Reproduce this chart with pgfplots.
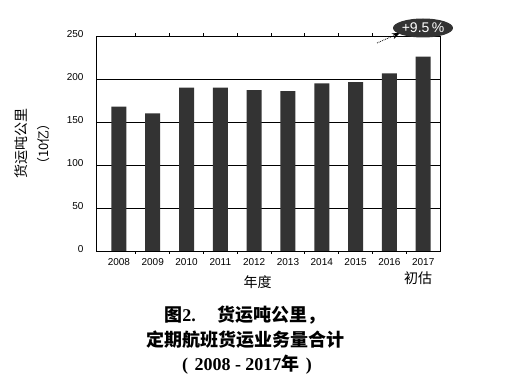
\documentclass[border=0pt]{standalone}
\usepackage{pgfplots}
\pgfplotsset{compat=1.18}
\usepackage{fontspec}
\setmainfont{Liberation Sans}
\newfontfamily\cjk{Noto Sans CJK SC}
\newfontfamily\serifb{Liberation Serif}
\usetikzlibrary{shapes.geometric,arrows.meta}
\definecolor{barc}{HTML}{333333}
\begin{document}
\begin{tikzpicture}[x=1pt,y=1pt]
\path[use as bounding box] (0,0) rectangle (512,383);
\begin{axis}[
  at={(96pt,132pt)}, anchor=south west, scale only axis,
  width=344pt, height=215pt,
  xmin=-0.677, xmax=9.497, ymin=0, ymax=250,
  axis line style={black, line width=0.8pt},
  xtick={0,...,9},
  xticklabels={2008,2009,2010,2011,2012,2013,2014,2015,2016,2017},
  minor xtick={0.5,1.5,...,8.5},
  ytick={0,50,...,250},
  major tick length=0pt,
  minor tick length=3pt,
  tick align=outside,
  tick style={black, line width=0.8pt},
  ymajorgrids,
  grid style={black, line width=0.8pt},
  /pgf/number format/assume math mode=true,
  xticklabel style={font=\fontsize{10}{10}\selectfont, yshift=-4pt},
  yticklabel style={font=\fontsize{10}{10}\selectfont, xshift=-9pt, yshift=2pt},
]
\addplot[ybar, bar width=15pt, fill=barc, draw=none] coordinates {
 (0,168) (1,160) (2,190) (3,190) (4,187) (5,186) (6,195) (7,196.5) (8,206.5) (9,226)
};
\end{axis}
\draw[densely dotted, line width=0.8pt, -{Stealth[length=8pt,width=6pt]}] (377,340) -- (400,350);
\node[ellipse, fill=barc, minimum width=45pt, minimum height=19pt, inner sep=0pt, text=white, font=\fontsize{14}{14}\selectfont] at (423,355) {+9.5\,\%};
\node[font=\cjk\fontsize{14}{14}\selectfont] at (257.5,101) {年度};
\node[font=\cjk\fontsize{14}{14}\selectfont] at (418,105) {初估};
\node[rotate=90, font=\cjk\fontsize{14}{14}\selectfont] at (21,239) {货运吨公里};
\node[rotate=90, font=\cjk\fontsize{13}{13}\selectfont] at (44,239) {（10亿）};
\node[font=\cjk\bfseries\fontsize{18}{18}\selectfont] at (245,68) {图{\serifb\bfseries 2.}\hspace{1.2em}货运吨公里，};
\node[font=\cjk\bfseries\fontsize{18}{18}\selectfont] at (245,43) {定期航班货运业务量合计};
\node[font=\cjk\bfseries\fontsize{18}{18}\selectfont] at (247,18) {{\serifb\bfseries (\hspace{0.35em}2008 - 2017}年{\serifb\bfseries\hspace{0.35em})}};
\end{tikzpicture}
\end{document}
